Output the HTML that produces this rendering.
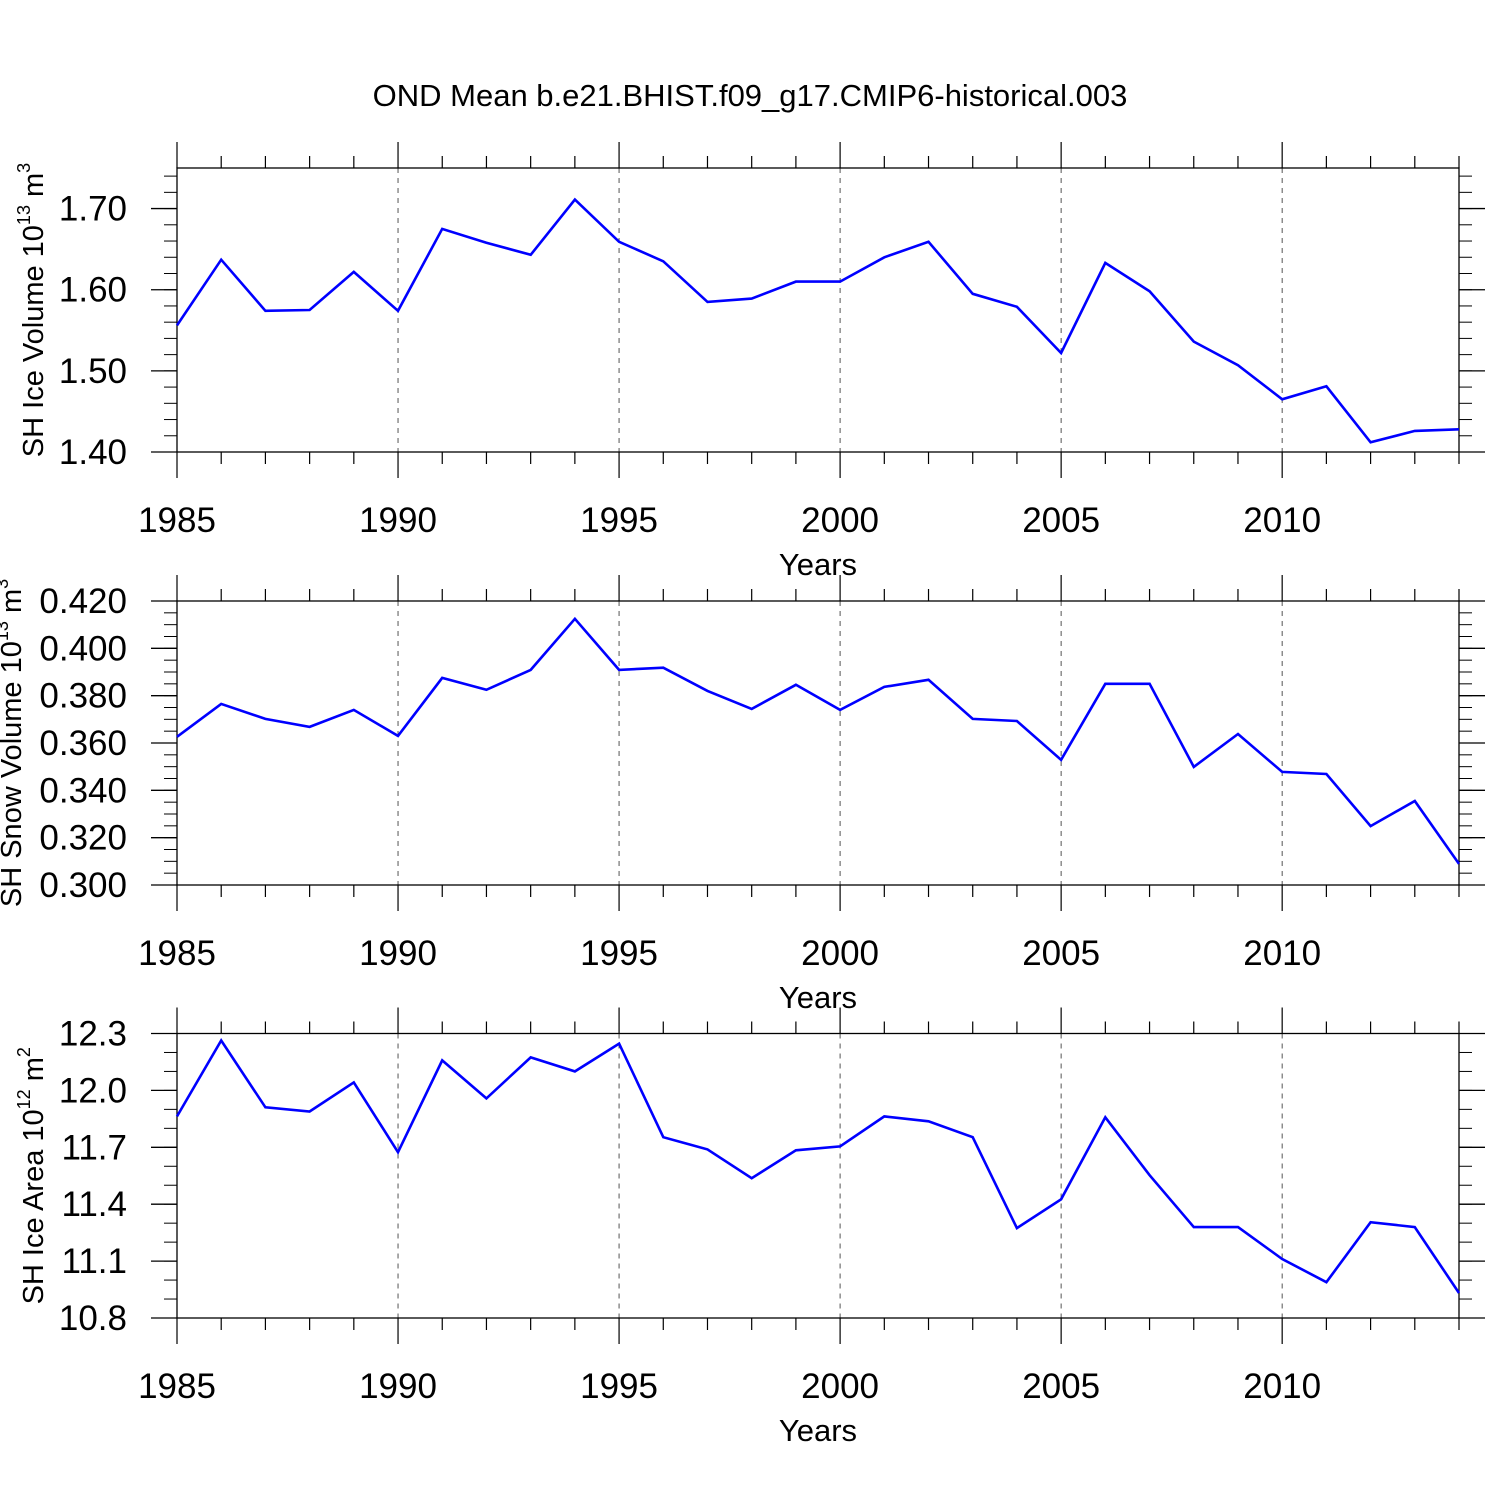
<!DOCTYPE html>
<html><head><meta charset="utf-8"><style>
html,body{margin:0;padding:0;background:#fff}
svg{display:block;font-family:"Liberation Sans",sans-serif}
</style></head><body>
<svg id="c" width="1500" height="1500" viewBox="0 0 1500 1500">
<text x="750" y="106" font-size="31" text-anchor="middle">OND Mean b.e21.BHIST.f09_g17.CMIP6-historical.003</text>
</svg>
<script>
const years = [1985,1986,1987,1988,1989,1990,1991,1992,1993,1994,1995,1996,1997,1998,1999,2000,2001,2002,2003,2004,2005,2006,2007,2008,2009,2010,2011,2012,2013,2014];
const iceVolume = [1.556,1.637,1.574,1.575,1.622,1.574,1.675,1.658,1.643,1.711,1.659,1.635,1.585,1.589,1.610,1.610,1.640,1.659,1.595,1.579,1.522,1.633,1.598,1.536,1.507,1.465,1.481,1.412,1.426,1.428];
const snowVolume = [0.3626,0.3765,0.3702,0.3668,0.3740,0.3630,0.3875,0.3825,0.3909,0.4125,0.3909,0.3918,0.3820,0.3744,0.3846,0.3740,0.3837,0.3867,0.3702,0.3693,0.3529,0.3850,0.3850,0.3499,0.3638,0.3478,0.3469,0.3249,0.3355,0.3089];
const iceArea = [11.863,12.263,11.911,11.889,12.042,11.674,12.158,11.958,12.174,12.100,12.247,11.753,11.689,11.537,11.684,11.705,11.863,11.837,11.753,11.274,11.426,11.858,11.553,11.279,11.279,11.111,10.989,11.305,11.279,10.932];
const xTicks = [1985,1990,1995,2000,2005,2010];
const volTicks = ["1.40","1.50","1.60","1.70"];
const snowTicks = ["0.300","0.320","0.340","0.360","0.380","0.400","0.420"];
const areaTicks = ["10.8","11.1","11.4","11.7","12.0","12.3"];

const svg = document.getElementById('c');
const NS = 'http://www.w3.org/2000/svg';
function mk(tag, attrs, parent){
  const e = document.createElementNS(NS, tag);
  for (const k in attrs) e.setAttribute(k, attrs[k]);
  (parent||svg).appendChild(e);
  return e;
}
const X0 = 177, X1 = 1459, YR0 = 1985, YR1 = 2014;
const xs = y => X0 + (y - YR0) / (YR1 - YR0) * (X1 - X0);

function panel(name, top, bot, ymin, ymax, ticks, minorStep, data, titleMain, sup, unit, titleX){
  const g = mk('g', {});
  
  
  const ys = v => bot - (v - ymin) / (ymax - ymin) * (bot - top);
  xTicks.forEach(t => { if (t > YR0 && t < YR1) {
    const l = mk('line', {x1:xs(t), x2:xs(t), y1:top, y2:bot, stroke:'#555', 'stroke-width':1, 'stroke-dasharray':'5,5'}, g);
    
    
  }});
  const f = mk('rect', {x:X0, y:top, width:X1-X0, height:bot-top, fill:'none', stroke:'#000', 'stroke-width':1.3}, g);
  
  
  for (let yr = YR0; yr <= YR1; yr++) {
    const major = xTicks.includes(yr);
    const len = major ? 26 : 12;
    mk('line', {x1:xs(yr), x2:xs(yr), y1:bot, y2:bot+len, stroke:'#000', 'stroke-width':1.2}, g);
    mk('line', {x1:xs(yr), x2:xs(yr), y1:top, y2:top-len, stroke:'#000', 'stroke-width':1.2}, g);
  }
  xTicks.forEach(t => {
    const tx = mk('text', {x:xs(t), y:bot+80, 'font-size':35, 'text-anchor':'middle'}, g);
    tx.textContent = t;
    
    
  });
  const xl = mk('text', {x:818, y:bot+123, 'font-size':31, 'text-anchor':'middle'}, g);
  xl.textContent = 'Years';
  
  
  const n = Math.round((ymax - ymin) / minorStep);
  for (let i = 0; i <= n; i++) {
    const v = ymin + i * minorStep, y = ys(v);
    if (y < top - 0.5) continue;
    mk('line', {x1:X0-13, x2:X0, y1:y, y2:y, stroke:'#000', 'stroke-width':1}, g);
    mk('line', {x1:X1, x2:X1+13, y1:y, y2:y, stroke:'#000', 'stroke-width':1}, g);
  }
  ticks.forEach(t => {
    const y = ys(parseFloat(t));
    mk('line', {x1:X0-26, x2:X0, y1:y, y2:y, stroke:'#000', 'stroke-width':1.3}, g);
    mk('line', {x1:X1, x2:X1+26, y1:y, y2:y, stroke:'#000', 'stroke-width':1.3}, g);
    const tx = mk('text', {x:127, y:y+12, 'font-size':35, 'text-anchor':'end'}, g);
    tx.textContent = t;
    
    
  });
  const cy = (top + bot) / 2;
  const yt = mk('text', {x:0, y:0, 'font-size':29, 'text-anchor':'middle', transform:'translate(' + titleX + ','+cy+') rotate(-90)'}, g);
  
  
  const s1 = mk('tspan', {}, yt); s1.textContent = titleMain + ' 10';
  const s2 = mk('tspan', {dy:-13, 'font-size':18}, yt); s2.textContent = sup;
  const s3 = mk('tspan', {dy:13}, yt); s3.textContent = ' m';
  const s4 = mk('tspan', {dy:-13, 'font-size':18}, yt); s4.textContent = unit;
  const pts = data.map((v, i) => xs(years[i]).toFixed(1) + ',' + ys(v).toFixed(1)).join(' ');
  const pl = mk('polyline', {points:pts, fill:'none', stroke:'#0000ff', 'stroke-width':2.6, 'stroke-linejoin':'miter'}, g);
  
  
}
panel('ice-volume', 168, 452, 1.40, 1.75, volTicks, 0.02, iceVolume, 'SH Ice Volume', '13', '3', 43);
panel('snow-volume', 601, 885, 0.300, 0.420, snowTicks, 0.005, snowVolume, 'SH Snow Volume', '13', '3', 21);
panel('ice-area', 1033.5, 1318, 10.8, 12.3, areaTicks, 0.1, iceArea, 'SH Ice Area', '12', '2', 43);
</script>
</body></html>
